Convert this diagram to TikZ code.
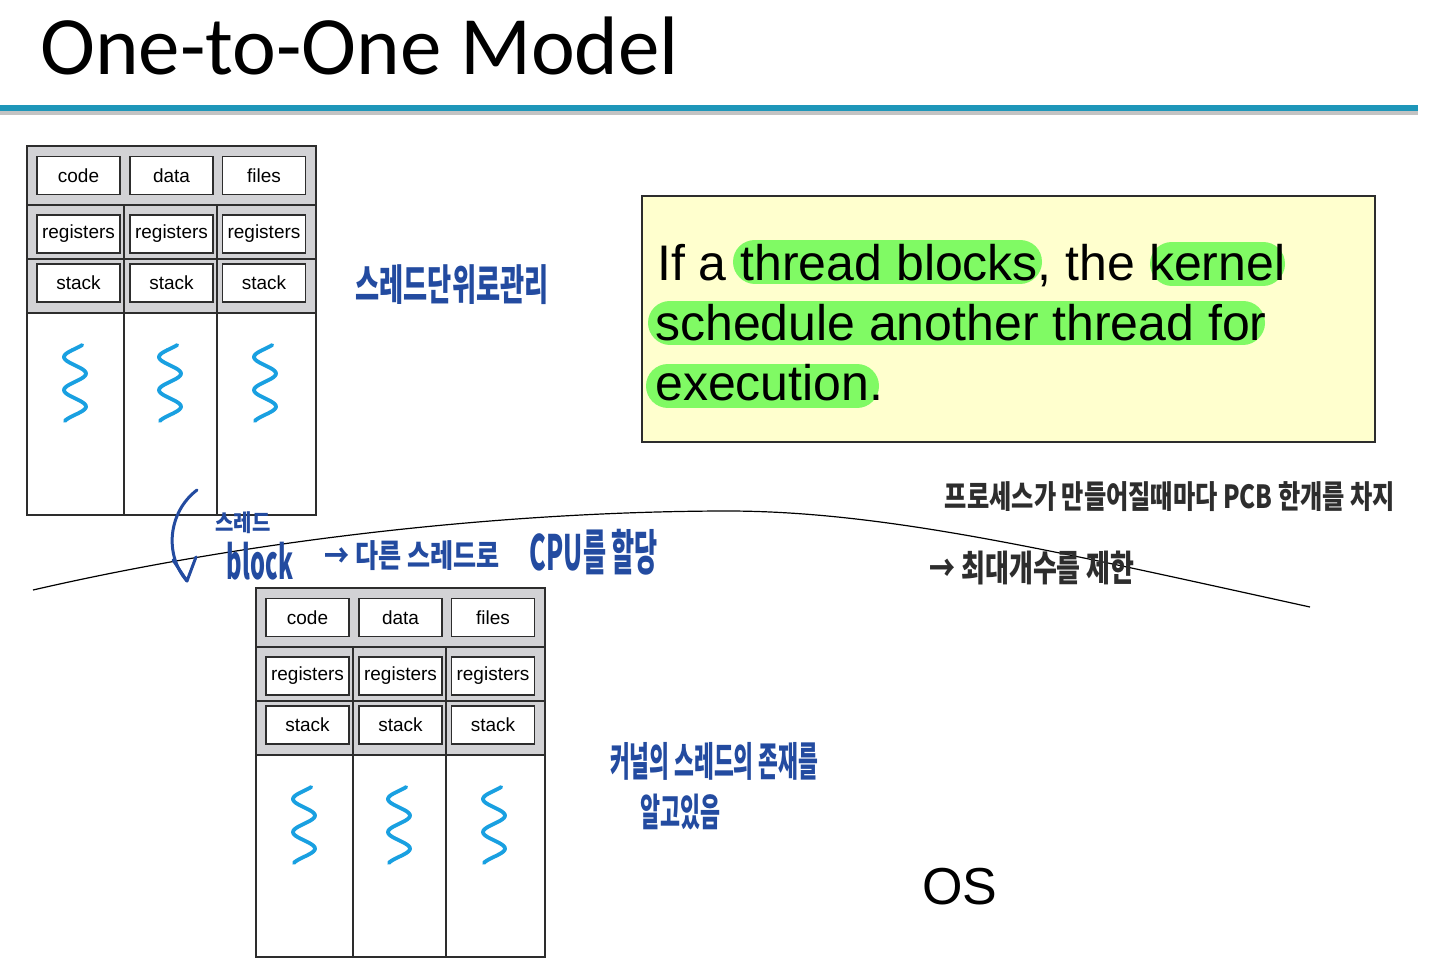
\documentclass[tikz,border=0pt]{standalone}
\usepackage{fontspec}
\setmainfont{Liberation Sans}
\newfontfamily\titlefont{Carlito}
\newfontfamily\kr{Noto Sans CJK KR}
\definecolor{rulec}{RGB}{30,150,185}
\definecolor{shadowc}{RGB}{195,195,195}
\definecolor{linec}{RGB}{45,45,45}
\definecolor{graybg}{RGB}{210,210,213}
\definecolor{squigc}{RGB}{25,160,225}
\definecolor{yellowbg}{RGB}{255,255,206}
\definecolor{hlc}{RGB}{128,250,100}
\definecolor{hwb}{RGB}{35,75,160}
\definecolor{hwd}{RGB}{45,45,45}
\newcommand\hw[3]{\resizebox*{#1pt}{#2pt}{\kr\bfseries #3}}
\newcommand\procbox[3]{%
\begin{scope}[shift={(#2,#3)}]
 \fill[graybg] (27,146) rectangle (316,313);
 \draw[procline] (27,146) rectangle (316,515);
 \draw[procline] (27,205) -- (316,205) (27,259) -- (316,259) (27,313) -- (316,313)
   (124,205) -- (124,515) (217,205) -- (217,515);
 \node[cell] (#1-code) at (78.5,175.5) {code};
 \node[cell] (#1-data) at (171.5,175.5) {data};
 \node[cell] (#1-files) at (264,175.5) {files};
 \node[cell] (#1-reg1) at (78.5,234) {registers};
 \node[cell] (#1-reg2) at (171.5,234) {registers};
 \node[cell] (#1-reg3) at (264,234) {registers};
 \node[cell] (#1-stk1) at (78.5,283) {stack};
 \node[cell] (#1-stk2) at (171.5,283) {stack};
 \node[cell] (#1-stk3) at (264,283) {stack};
 \foreach \cx in {75,170,265}
   \draw[squig] plot[domain=2:78, samples=60, smooth, variable=\t] ({\cx + 11*cos(10.9*\t + 27)}, {343+\t});
\end{scope}}
\begin{document}
\begin{tikzpicture}[x=1pt,y=-1pt,
  procline/.style={draw=linec, line width=1.3pt},
  cell/.style={draw=linec, fill=white, line width=1.3pt, minimum width=83pt, minimum height=38pt, inner sep=0pt, font=\fontsize{19}{19}\selectfont},
  squig/.style={draw=squigc, line width=3.8pt, line cap=round},
  hl/.style={draw=hlc, line width=44pt, line cap=round},
  hwblue/.style={text=hwb, inner sep=0pt},
  hwdark/.style={text=hwd, inner sep=0pt},
  bodytext/.style={anchor=base west, inner sep=0pt, font=\fontsize{50}{50}\selectfont}]
\useasboundingbox (0,0) rectangle (1440,970);
\fill[white] (0,0) rectangle (1440,970);
% title and rule
\node[anchor=base west, inner sep=0pt, font=\titlefont\fontsize{83}{83}\selectfont] (title) at (40,74) {One-to-One Model};
\fill[shadowc] (0,110) rectangle (1418,115);
\fill[rulec] (0,105) rectangle (1418,111);
% process boxes
\procbox{p1}{0}{0}
\procbox{p2}{229}{442}
% dividing curve
\coordinate (cL) at (33,590);
\coordinate (cM) at (720,511);
\coordinate (cR) at (1310,607);
\draw[black, line width=1.2pt] (cL) .. controls (250,540) and (500,512) .. (cM) .. controls (880,510) and (1050,550) .. (cR);
% yellow box
\draw[fill=yellowbg, draw=linec, line width=1.5pt] (642,196) rectangle (1375,442);
\draw[hl] (755,261.5) -- (1020,261.5);
\draw[hl] (1172,263.5) -- (1263,263.5);
\draw[hl] (670,322.5) -- (1243,322.5);
\draw[hl] (668,386) -- (857,386);
\node[bodytext] (line1) at (657,280) {If a thread blocks, the kernel};
\node[bodytext] (line2) at (655,340) {schedule another thread for};
\node[bodytext] (line3) at (655,400) {execution.};
% OS
\node[anchor=base west, inner sep=0pt, font=\fontsize{52}{52}\selectfont] (os) at (922,904) {OS};
% handwritten notes
\node[hwblue] (n1) at (452,285) {\hw{193}{40}{스레드단위로관리}};
\node[hwblue] (n2) at (243,523) {\hw{55}{22}{스레드}};
\node[hwblue] (n3) at (260,561) {\hw{66}{38}{block}};
\node[hwblue] (n4) at (412,556) {\hw{175}{30}{→ 다른 스레드로}};
\node[hwblue] (n5) at (594,552) {\hw{128}{46}{CPU를 할당}};
\node[hwdark] (n6) at (1170,497) {\hw{450}{30}{프로세스가 만들어질때마다 PCB 한개를 차지}};
\node[hwdark] (n7) at (1032,568) {\hw{205}{34}{→ 최대개수를 제한}};
\node[hwblue] (n8) at (714,761) {\hw{208}{38}{커널의 스레드의 존재를}};
\node[hwblue] (n9) at (680,812) {\hw{80}{36}{알고있음}};
% curved blue arrow
\coordinate (arrS) at (197,490);
\coordinate (arrE) at (187,581);
\draw[hwb, line width=3pt, line cap=round, line join=round] (arrS) .. controls (168,512) and (164,555) .. (arrE);
\draw[hwb, line width=3pt, line cap=round, line join=round] (173,560) -- (arrE) -- (196,557);
\end{tikzpicture}
\end{document}
